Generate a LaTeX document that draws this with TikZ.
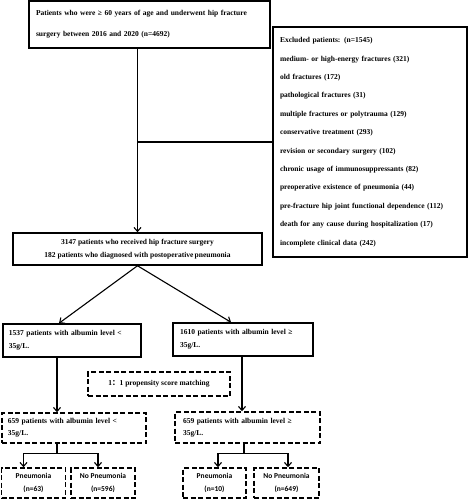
\documentclass[tikz,border=0pt]{standalone}
\usepackage{fontspec}
\setmainfont{Liberation Serif}
\newfontfamily\leaffont{Carlito}
\newfontfamily\cjk{Noto Sans CJK SC}
\usetikzlibrary{arrows.meta,calc}
\begin{document}
\begin{tikzpicture}[x=1pt,y=-1pt,
 box/.style={draw, line width=1.5pt, inner sep=0pt},
 dbox/.style={box, dash pattern=on 5pt off 2.5pt},
 tf/.style={font=\bfseries\fontsize{7.5}{#1}\selectfont},
 leaf/.style={dbox, align=center, font=\leaffont\bfseries\fontsize{7.5}{13}\selectfont},
 arr/.style={-{Straight Barb[length=4pt,width=7pt]}, line width=1.1pt},
 ln/.style={line width=1.1pt}]
\useasboundingbox (0,0) rectangle (468,500);
\node[box, tf=21, minimum width=241, minimum height=47, text width=227, align=left] (top) at (149.5,24.5)
 {Patients who were ≥ 60 years of age and underwent hip fracture\\surgery between 2016 and 2020 (n=4692)};
\node[box, tf=18.4, minimum width=194, minimum height=230, text width=180, align=left] (excl) at (370,142)
 {Excluded patients: (n=1545)\\
 medium- or high-energy fractures (321)\\
 old fractures (172)\\
 pathological fractures (31)\\
 multiple fractures or polytrauma (129)\\
 conservative treatment (293)\\
 revision or secondary surgery (102)\\
 chronic usage of immunosuppressants (82)\\
 preoperative existence of pneumonia (44)\\
 pre-fracture hip joint functional dependence (112)\\
 death for any cause during hospitalization (17)\\
 incomplete clinical data (242)};
\node[box, tf=13, minimum width=249, minimum height=32, align=center] (s) at (137.5,249)
 {3147 patients who received hip fracture surgery\\182 patients who diagnosed with postoperative\,pneumonia};
\node[box, tf=13, minimum width=138, minimum height=33, text width=126, align=left] (m1) at (72,340.5)
 {1537 patients with albumin level <\\35g/L.};
\node[box, tf=13, minimum width=140, minimum height=33, text width=126, align=left] (m2) at (243,339.5)
 {1610 patients with albumin level ≥\\35g/L.};
\node[dbox, tf=13, minimum width=142, minimum height=24, align=center] (psm) at (159,384)
 {1{\cjk ：}1 propensity score matching};
\node[dbox, tf=12, minimum width=144, minimum height=30, text width=132, align=left] (d1) at (74,428)
 {659 patients with albumin level <\\35g/L.};
\node[dbox, tf=12, minimum width=145, minimum height=31, text width=129, align=left] (d2) at (247.5,427.5)
 {659 patients with albumin level ≥\\35g/L.};
\node[leaf, minimum width=64, minimum height=30] (lp1) at (33.5,483) {Pneumonia\\(n=63)};
\node[leaf, minimum width=64, minimum height=30] (ln1) at (103,483) {No Pneumonia\\(n=596)};
\node[leaf, minimum width=63, minimum height=30] (lp2) at (214.5,483) {Pneumonia\\(n=10)};
\node[leaf, minimum width=65, minimum height=30] (ln2) at (286.5,483) {No Pneumonia\\(n=649)};
% connectors
\draw[arr] (top.south -| s.north) -- (s.north);
\draw[ln] (s.north |- excl.west) -- (excl.west);
\draw[arr] (s.south) -- ([xshift=-13]m1.north);
\draw[arr] (s.south) -- ([xshift=-12]m2.north);
\draw[arr] ([xshift=-15]m1.south) -- ([xshift=-15]m1.south |- d1.north);
\draw[arr] ([xshift=-1]m2.south) -- ([xshift=-1]m2.south |- d2.north);
\draw[ln] ([xshift=-17]d1.south) -- ++(0,10) coordinate (b1);
\draw[arr] (b1) -| ([xshift=-10]lp1.north);
\draw[arr] (b1) -| ([xshift=-5]ln1.north);
\draw[ln] ([xshift=-3.5]d2.south) -- ++(0,10) coordinate (b2);
\draw[arr] (b2) -| ([xshift=3.5]lp2.north);
\draw[arr] (b2) -| ([xshift=1.5]ln2.north);
\end{tikzpicture}
\end{document}
